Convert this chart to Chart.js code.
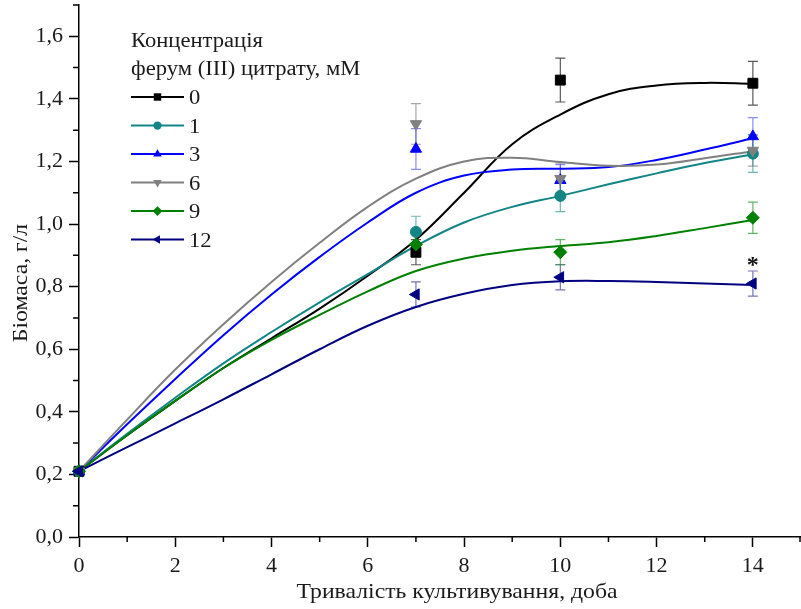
<!DOCTYPE html>
<html>
<head>
<meta charset="utf-8">
<script src="https://cdn.jsdelivr.net/npm/chart.js@4/dist/chart.umd.min.js"></script>
<style>
  html, body { margin: 0; padding: 0; background: #ffffff; overflow: hidden; }
  #c { display: block; }
</style>
</head>
<body>
<canvas id="c" width="801" height="609" style="width:801px;height:609px"></canvas>
<script>
// ---------------- DATA ----------------
const legendTitle = ['Концентрація', 'ферум (ІІІ) цитрату, мМ'];
const xTitle = 'Тривалість культивування, доба';
const yTitle = 'Біомаса, г/л';
const concentrations = ['0', '1', '3', '6', '9', '12'];

// measured points (days)
const days = [0, 7, 10, 14];
const biomass0  = [0.21, 0.91, 1.46, 1.45];
const biomass1  = [0.21, 0.975, 1.09, 1.225];
const biomass3  = [0.21, 1.24, 1.14, 1.28];
const biomass6  = [0.21, 1.32, 1.145, 1.235];
const biomass9  = [0.21, 0.935, 0.91, 1.02];
const biomass12 = [0.21, 0.775, 0.83, 0.81];

// standard errors
const err0  = [0.01, 0.04, 0.07, 0.07];
const err1  = [0.01, 0.05, 0.05, 0.06];
const err3  = [0.01, 0.065, 0.05, 0.06];
const err6  = [0.01, 0.065, 0.05, 0.05];
const err9  = [0.01, 0.04, 0.04, 0.05];
const err12 = [0.01, 0.04, 0.04, 0.04];

// smoothed curves
const curveDays = [0, 1, 2, 3, 4, 5, 6, 7, 8, 9, 10, 11, 12, 13, 14];
const curve0  = [0.21, 0.325, 0.435, 0.54, 0.635, 0.73, 0.835, 0.95, 1.10, 1.255, 1.35, 1.415, 1.443, 1.451, 1.448];
const curve1  = [0.21, 0.33, 0.445, 0.555, 0.655, 0.75, 0.84, 0.93, 1.005, 1.055, 1.09, 1.127, 1.162, 1.195, 1.223];
const curve3  = [0.21, 0.36, 0.505, 0.645, 0.775, 0.895, 1.005, 1.10, 1.155, 1.174, 1.177, 1.182, 1.205, 1.238, 1.274];
const curve6  = [0.21, 0.375, 0.535, 0.68, 0.815, 0.94, 1.055, 1.145, 1.20, 1.212, 1.198, 1.186, 1.19, 1.21, 1.233];
const curve9  = [0.21, 0.325, 0.435, 0.54, 0.63, 0.71, 0.785, 0.85, 0.89, 0.915, 0.93, 0.942, 0.962, 0.987, 1.013];
const curve12 = [0.21, 0.287, 0.363, 0.44, 0.52, 0.60, 0.675, 0.735, 0.777, 0.805, 0.817, 0.818, 0.815, 0.81, 0.805];

// significance mark
const starDay = 14;
const starValue = 0.873;

// ticks
const xTicks = [0, 2, 4, 6, 8, 10, 12, 14];
const yTicks = [0, 0.2, 0.4, 0.6, 0.8, 1.0, 1.2, 1.4, 1.6];

// ---------------- STYLE ----------------
const FONT = "'Liberation Serif', 'Times New Roman', serif";
const TEXT = '#1a1a1a';
const STRETCH = 1.13;
const series = [
  { label: concentrations[0], pts: biomass0,  err: err0,  curve: curve0,  color: '#000000', errColor: 'rgba(60,60,60,0.85)',  style: 'rect',     rot: 0,   r: 7 },
  { label: concentrations[1], pts: biomass1,  err: err1,  curve: curve1,  color: '#138585', errColor: 'rgba(19,133,133,0.6)', style: 'circle',   rot: 0,   r: 5.5 },
  { label: concentrations[2], pts: biomass3,  err: err3,  curve: curve3,  color: '#0000ff', errColor: 'rgba(60,60,255,0.6)',  style: 'triangle', rot: 0,   r: 6.5 },
  { label: concentrations[3], pts: biomass6,  err: err6,  curve: curve6,  color: '#808080', errColor: 'rgba(128,128,128,0.7)',style: 'triangle', rot: 180, r: 6.5 },
  { label: concentrations[4], pts: biomass9,  err: err9,  curve: curve9,  color: '#008000', errColor: 'rgba(0,128,0,0.6)',    style: 'rectRot',  rot: 0,   r: 6.5 },
  { label: concentrations[5], pts: biomass12, err: err12, curve: curve12, color: '#000080', errColor: 'rgba(0,0,128,0.55)',   style: 'triangle', rot: -90, r: 6.5 }
];

const datasets = [];
// markers: later series end up on top (Chart.js draws lower indices last)
series.slice().reverse().forEach((s) => {
  datasets.push({
    label: s.label,
    data: days.map((d, j) => ({ x: d, y: s.pts[j] })),
    errors: s.err,
    errorColor: s.errColor,
    showLine: false,
    pointStyle: s.style,
    rotation: s.rot,
    pointRadius: s.r,
    pointBackgroundColor: s.color,
    pointBorderColor: s.color,
    pointBorderWidth: 1,
    clip: false,
    order: 0
  });
});
series.slice().reverse().forEach((s) => {
  datasets.push({
    label: s.label + ' curve',
    data: curveDays.map((d, j) => ({ x: d, y: s.curve[j] })),
    showLine: true,
    borderColor: s.color,
    borderWidth: 2,
    pointRadius: 0,
    tension: 0.4,
    order: 1
  });
});

// ---------------- PLUGINS ----------------
const errorBars = {
  id: 'errorBars',
  beforeDatasetsDraw(chart) {
    const { ctx, scales: { x, y } } = chart;
    chart.data.datasets.forEach((ds) => {
      if (!ds.errors) return;
      ctx.save();
      ctx.strokeStyle = ds.errorColor;
      ctx.lineWidth = 1.2;
      ds.data.forEach((p, j) => {
        const e = ds.errors[j];
        if (!e) return;
        const px = x.getPixelForValue(p.x);
        const t = y.getPixelForValue(p.y + e);
        const b = y.getPixelForValue(p.y - e);
        ctx.beginPath();
        ctx.moveTo(px, t); ctx.lineTo(px, b);
        ctx.moveTo(px - 5, t); ctx.lineTo(px + 5, t);
        ctx.moveTo(px - 5, b); ctx.lineTo(px + 5, b);
        ctx.stroke();
      });
      ctx.restore();
    });
  }
};

const minorTicks = {
  id: 'minorTicks',
  afterDraw(chart) {
    const { ctx, scales: { x, y } } = chart;
    ctx.save();
    ctx.strokeStyle = '#000';
    ctx.lineWidth = 1.5;
    ctx.beginPath();
    for (let v = 1; v <= x.max + 1e-9; v += 2) {
      const px = Math.min(x.getPixelForValue(v), chart.width - 1);
      ctx.moveTo(px, y.bottom); ctx.lineTo(px, y.bottom + 5);
    }
    for (let v = 0.1; v <= y.max + 1e-9; v += 0.2) {
      const py = y.getPixelForValue(v);
      ctx.moveTo(x.left, py); ctx.lineTo(x.left - 6, py);
    }
    ctx.stroke();
    ctx.restore();
  }
};

function stretchedText(ctx, text, x, y, align) {
  ctx.save();
  ctx.translate(x, y);
  ctx.scale(STRETCH, 1);
  ctx.textAlign = align;
  ctx.fillText(text, 0, 0);
  ctx.restore();
}

const textLayer = {
  id: 'textLayer',
  afterDraw(chart) {
    const { ctx, scales: { x, y } } = chart;
    ctx.save();
    ctx.fillStyle = TEXT;
    ctx.textBaseline = 'alphabetic';
    // axis titles
    ctx.font = '21px ' + FONT;
    stretchedText(ctx, xTitle, 457, 598, 'center');
    ctx.save();
    ctx.translate(27, 283);
    ctx.rotate(-Math.PI / 2);
    ctx.scale(STRETCH, 1);
    ctx.textAlign = 'center';
    ctx.fillText(yTitle, 0, 0);
    ctx.restore();
    // legend
    ctx.font = '20px ' + FONT;
    stretchedText(ctx, legendTitle[0], 131, 46.5, 'left');
    stretchedText(ctx, legendTitle[1], 131, 75, 'left');
    const x0 = 131, x1 = 184, y0 = 97, step = 28.5;
    series.forEach((s, i) => {
      const yy = y0 + i * step;
      ctx.strokeStyle = s.color;
      ctx.lineWidth = 2;
      ctx.beginPath(); ctx.moveTo(x0, yy); ctx.lineTo(x1, yy); ctx.stroke();
      ctx.fillStyle = s.color;
      Chart.helpers.drawPoint(ctx, { pointStyle: s.style, radius: s.r * 0.75, rotation: s.rot, borderWidth: 0 }, (x0 + x1) / 2, yy);
      ctx.fillStyle = TEXT;
      stretchedText(ctx, s.label, 189, yy + 7, 'left');
    });
    // significance asterisk
    ctx.font = 'bold 24px ' + FONT;
    ctx.textBaseline = 'middle';
    ctx.textAlign = 'center';
    ctx.fillStyle = '#111';
    ctx.fillText('*', x.getPixelForValue(starDay), y.getPixelForValue(starValue) + 2);
    ctx.restore();
  }
};

// ---------------- CHART ----------------
new Chart(document.getElementById('c'), {
  type: 'scatter',
  data: { datasets },
  plugins: [errorBars, minorTicks, textLayer],
  options: {
    responsive: false,
    maintainAspectRatio: false,
    devicePixelRatio: 1,
    animation: false,
    layout: { autoPadding: false, padding: { top: 5, right: 0, bottom: 0, left: 0 } },
    plugins: { legend: { display: false }, tooltip: { enabled: false } },
    scales: {
      x: {
        type: 'linear',
        min: 0, max: 15,
        afterFit(s) { s.height = 72; s.paddingLeft = 0; s.paddingRight = 0; },
        afterBuildTicks(s) { s.ticks = xTicks.map(v => ({ value: v })); },
        ticks: { color: TEXT, font: { family: FONT, size: 22 }, padding: 6, maxRotation: 0,
                 callback: v => String(v) },
        grid: { drawOnChartArea: false, drawTicks: true, tickLength: 10, tickColor: '#000', tickWidth: 1.5 },
        border: { color: '#000', width: 1.5 },
        title: { display: false, text: xTitle }
      },
      y: {
        type: 'linear',
        min: 0, max: 1.7,
        afterFit(s) { s.width = 79; s.paddingTop = 0; s.paddingBottom = 0; },
        afterBuildTicks(s) { s.ticks = yTicks.map(v => ({ value: v })); },
        ticks: { color: TEXT, font: { family: FONT, size: 22 }, padding: 6,
                 callback: v => Number(v).toFixed(1).replace('.', ',') },
        grid: { drawOnChartArea: false, drawTicks: true, tickLength: 10, tickColor: '#000', tickWidth: 1.5 },
        border: { color: '#000', width: 1.5 },
        title: { display: false, text: yTitle }
      }
    }
  }
});
</script>
</body>
</html>
